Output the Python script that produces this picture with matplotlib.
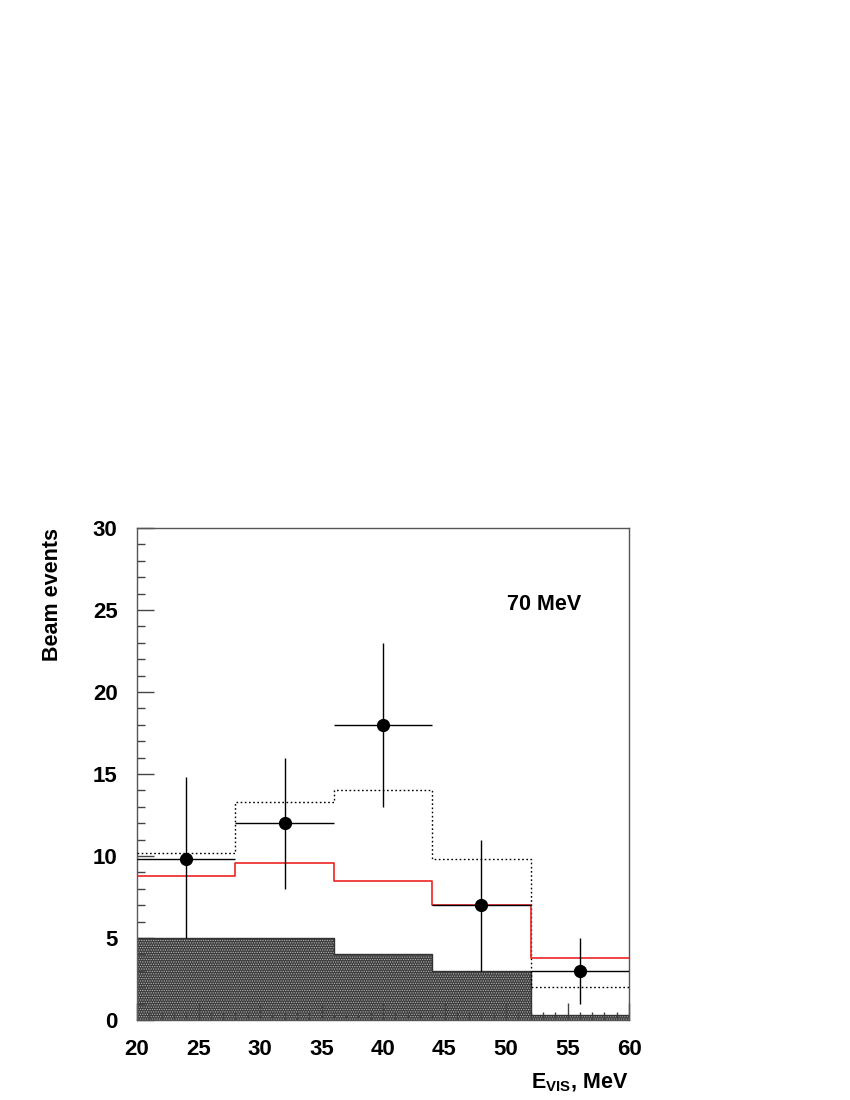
import numpy as np
import matplotlib
matplotlib.use("Agg")
import matplotlib.pyplot as plt
from matplotlib.ticker import MultipleLocator

plt.rcParams['font.family'] = ['Liberation Sans', 'DejaVu Sans']
plt.rcParams['font.weight'] = 'bold'
plt.rcParams['hatch.linewidth'] = 0.6

# Data
bin_edges = [20, 28, 36, 44, 52, 60]
data_x = [24, 32, 40, 48, 56]
data_y = [9.8, 12, 18, 7, 3]
data_err_lo = [4.8, 4, 5, 4, 2]
data_err_hi = [5.0, 4, 5, 4, 2]
data_xerr = [4, 4, 4, 4, 4]
dotted_hist = [10.2, 13.3, 14.0, 9.8, 2.0]
red_hist = [8.8, 9.6, 8.5, 7.0, 3.8]
bg_hist = [5.0, 5.0, 4.0, 3.0, 0.3]

fig = plt.figure(figsize=(8.5, 11), dpi=100)
ax = fig.add_axes([137/850, 80/1100, 492/850, 492/1100])

edges = np.array(bin_edges)

def step_xy(vals):
    xs = np.repeat(edges, 2)[1:-1]
    ys = np.repeat(np.array(vals), 2)
    return xs, ys

# background filled histogram
xs, ys = step_xy(bg_hist)
ax.fill_between(xs, 0, ys, facecolor='#3c3c3c', edgecolor='#b5b5b5',
                hatch='.......', linewidth=0, zorder=1)
ax.plot(xs, ys, color='#333333', lw=1.0, zorder=2)

# dotted histogram
xs, ys = step_xy(dotted_hist)
ax.plot(xs, ys, color='black', lw=1.0, ls=(0, (1.2, 1.8)), zorder=3)

# red histogram
xs, ys = step_xy(red_hist)
ax.plot(np.concatenate([[edges[0]], xs]), np.concatenate([[0], ys]),
        color='#ee2222', lw=1.2, zorder=4)

# data points
ax.errorbar(data_x, data_y, xerr=data_xerr, yerr=[data_err_lo, data_err_hi],
            fmt='o', color='black', ms=8.5, elinewidth=1.0, capsize=0, zorder=5)

ax.set_xlim(20, 60)
ax.set_ylim(0, 30)
ax.xaxis.set_major_locator(MultipleLocator(5))
ax.xaxis.set_minor_locator(MultipleLocator(1))
ax.yaxis.set_major_locator(MultipleLocator(5))
ax.yaxis.set_minor_locator(MultipleLocator(1))
ax.tick_params(which='both', direction='in', top=False, right=False,
               labelsize=16, width=1.0, color='#444444')
ax.tick_params(which='major', length=12, pad=14)
ax.tick_params(which='minor', length=6)
for lab in ax.get_xticklabels() + ax.get_yticklabels():
    lab.set_fontweight('bold')
for s in ax.spines.values():
    s.set_linewidth(1.0)
    s.set_color('#555555')

fig.text(53/850, 1 - 528/1100, 'Beam events', rotation=90, ha='center', va='top',
         fontsize=15.5, fontweight='bold')
ax.text(0.752, 0.845, '70 MeV', transform=ax.transAxes, fontsize=15.5,
        fontweight='bold', ha='left', va='center')
fig.text(628/850, 1 - 1083/1100, r'E$_{\mathregular{VIS}}$, MeV', ha='right', va='center',
         fontsize=15.5, fontweight='bold')

fig.savefig('out.png', dpi=100)
